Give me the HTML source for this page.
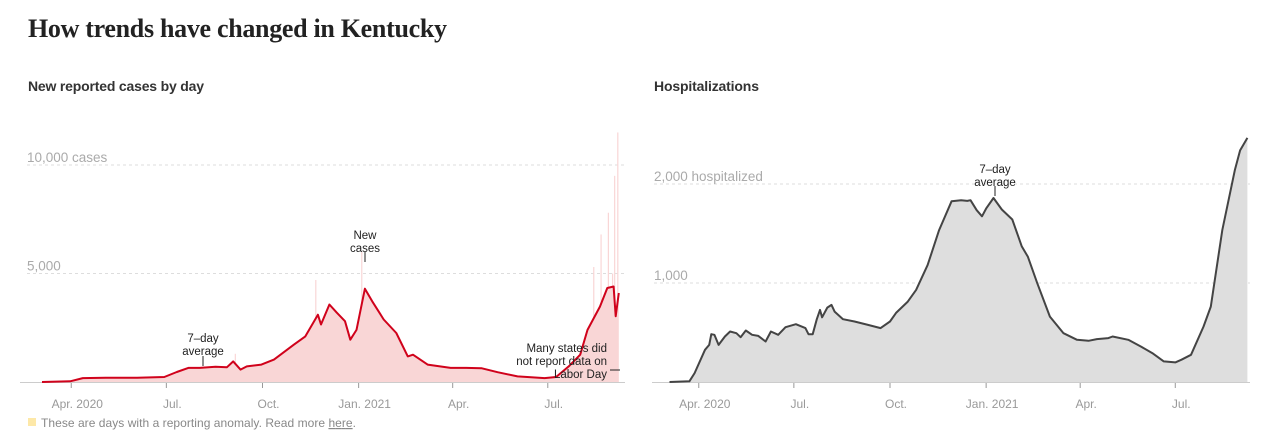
<!DOCTYPE html>
<html><head><meta charset="utf-8"><style>
body{margin:0;background:#fff;width:1280px;height:435px;overflow:hidden}
svg{display:block}
.t{font-family:"Liberation Sans Narrow","Liberation Sans",sans-serif}
</style></head><body>
<svg id="s" width="1280" height="435">
<text x="28" y="37" font-family="Liberation Serif,serif" font-weight="bold" font-size="26" fill="#222" textLength="419">How trends have changed in Kentucky</text>
<text class="t" x="28" y="91" font-weight="bold" font-size="14" fill="#333" textLength="176">New reported cases by day</text>
<text class="t" x="654" y="91" font-weight="bold" font-size="14" fill="#333" textLength="105">Hospitalizations</text>
<g id="L"></g>
<g id="R"></g>
<rect x="28" y="418" width="8" height="8" fill="#fde8a8"/>
<text class="t" x="41" y="427" font-size="12" fill="#888" textLength="315">These are days with a reporting anomaly. Read more <tspan text-decoration="underline">here</tspan>.</text>
</svg>
<script>
// shared day offsets from Mar 4 2020
const tickDays=[28,119,211,303,393,484];
const tickLabels=["Apr. 2020","Jul.","Oct.","Jan. 2021","Apr.","Jul."];
// cases 7-day average
const caseDays=[0,27,39,61,91,117,129,140,151,166,177,183,190,196,210,222,241,252,264,267,275,282,290,295,301,309,316,327,339,350,355,369,391,406,421,436,455,481,492,504,515,522,534,541,547,549,552];
const caseAvg=[0,30,180,200,200,230,460,650,650,700,680,950,570,720,800,1030,1720,2100,3100,2650,3570,3200,2800,1950,2400,4300,3720,2880,2260,1180,1260,800,650,650,630,450,260,180,230,720,1260,2400,3480,4330,4400,3030,4100];
const spikeDays=[185,262,306,528,535,542,546,548,551];
const spikeVals=[1300,4700,6000,5300,6800,7800,5000,9500,11500];
const caseTicks=[5000,10000];const caseTickLabels=["5,000","10,000 cases"];
// hospitalizations 7-day average
const hospDays=[0,19,24,34,38,40,43,47,53,58,64,68,73,79,85,92,97,104,111,121,130,133,137,141,144,146,151,155,158,166,177,190,202,211,217,228,236,247,258,270,279,285,288,294,299,303,310,318,328,337,343,352,364,377,390,401,409,420,424,439,451,462,473,484,490,499,511,518,529,541,546,553];
const hospAvg=[0,7,90,325,375,483,477,375,460,510,493,453,520,477,466,409,510,477,554,584,544,483,483,634,728,654,752,779,711,634,611,577,544,611,701,812,930,1181,1534,1826,1836,1829,1836,1735,1674,1752,1859,1742,1641,1372,1265,997,661,493,426,416,433,443,460,426,359,292,208,198,225,275,560,762,1534,2138,2339,2466];
const hospTicks=[1000,2000];const hospTickLabels=["1,000","2,000 hospitalized"];

const NS="http://www.w3.org/2000/svg";
function mk(p,tag,a){const e=document.createElementNS(NS,tag);for(const k in a)e.setAttribute(k,a[k]);p.appendChild(e);return e;}
function build(g,cfg){
  const X=d=>cfg.x0+d*1.045, Y=v=>382-v*cfg.k;
  cfg.ticks.forEach((t,i)=>{
    const l=mk(g,"line",{x1:cfg.gx0,x2:cfg.gx1,y1:Y(t),y2:Y(t),stroke:"#ddd","stroke-dasharray":"3,3"});
    
    
    const tx=mk(g,"text",{x:cfg.gx0,y:Y(t)-3,"font-size":13.5,fill:"#aaa",class:"t"});tx.textContent=cfg.tickLabels[i];
    
    
  });
  let d="M"+X(cfg.days[0])+",382";
  cfg.days.forEach((dd,i)=>d+="L"+X(dd).toFixed(1)+","+Y(cfg.vals[i]).toFixed(1));
  d+="L"+X(cfg.days[cfg.days.length-1])+",382Z";
  const a=mk(g,"path",{d:d,fill:cfg.fill});
  
  
  (cfg.sd||[]).forEach((s,i)=>{
    const b=mk(g,"rect",{x:X(s)-0.6,y:Y(cfg.sv[i]),width:1.2,height:382-Y(cfg.sv[i]),fill:cfg.fill});
    
    
  });
  const ax=mk(g,"line",{x1:cfg.ax0,x2:cfg.gx1,y1:382.5,y2:382.5,stroke:"#ccc"});
  
  
  let ld="";cfg.days.forEach((dd,i)=>ld+=(i?"L":"M")+X(dd).toFixed(1)+","+Y(cfg.vals[i]).toFixed(1));
  const ln=mk(g,"path",{d:ld,fill:"none",stroke:cfg.line,"stroke-width":2,"stroke-linejoin":"round"});
  
  
  tickDays.forEach((t,i)=>{
    const tk=mk(g,"line",{x1:X(t),x2:X(t),y1:383,y2:388,stroke:"#999"});
    
    
    const tx=mk(g,"text",{x:X(t)+6,y:408,"font-size":12,fill:"#999",class:"t","text-anchor":"middle"});tx.textContent=tickLabels[i];
    
    
  });
}
build(document.getElementById("L"),{x0:42,k:108.5/5000,gx0:27,gx1:625,ax0:20,ticks:caseTicks,tickLabels:caseTickLabels,days:caseDays,vals:caseAvg,sd:spikeDays,sv:spikeVals,fill:"#f9d6d6",line:"#d0021b"});
build(document.getElementById("R"),{x0:669.5,k:99/1000,gx0:654,gx1:1250,ax0:652,ticks:hospTicks,tickLabels:hospTickLabels,days:hospDays,vals:hospAvg,fill:"#dedede",line:"#444"});
const s=document.getElementById("s");
function note(lines,x,y,anchor,name){
  const t=mk(s,"text",{x:x,y:y,"font-size":11.5,fill:"#222","text-anchor":anchor,class:"t"});
  
  
  lines.forEach((l,i)=>{const sp=mk(t,"tspan",{x:x,dy:i?13:0});sp.textContent=l;});
}
note(["7–day","average"],203,342,"middle","cases-average-annotation");
mk(s,"line",{x1:203,x2:203,y1:356,y2:366,stroke:"#222"});
note(["New","cases"],365,239,"middle","new-cases-annotation");
mk(s,"line",{x1:365,x2:365,y1:252,y2:262,stroke:"#222"});
note(["Many states did","not report data on","Labor Day"],607,352,"end","labor-day-annotation");
mk(s,"line",{x1:610,x2:620,y1:370,y2:370,stroke:"#222"});
note(["7–day","average"],995,173,"middle","hosp-average-annotation");
mk(s,"line",{x1:995,x2:995,y1:186,y2:196,stroke:"#222"});
</script>
</body></html>
